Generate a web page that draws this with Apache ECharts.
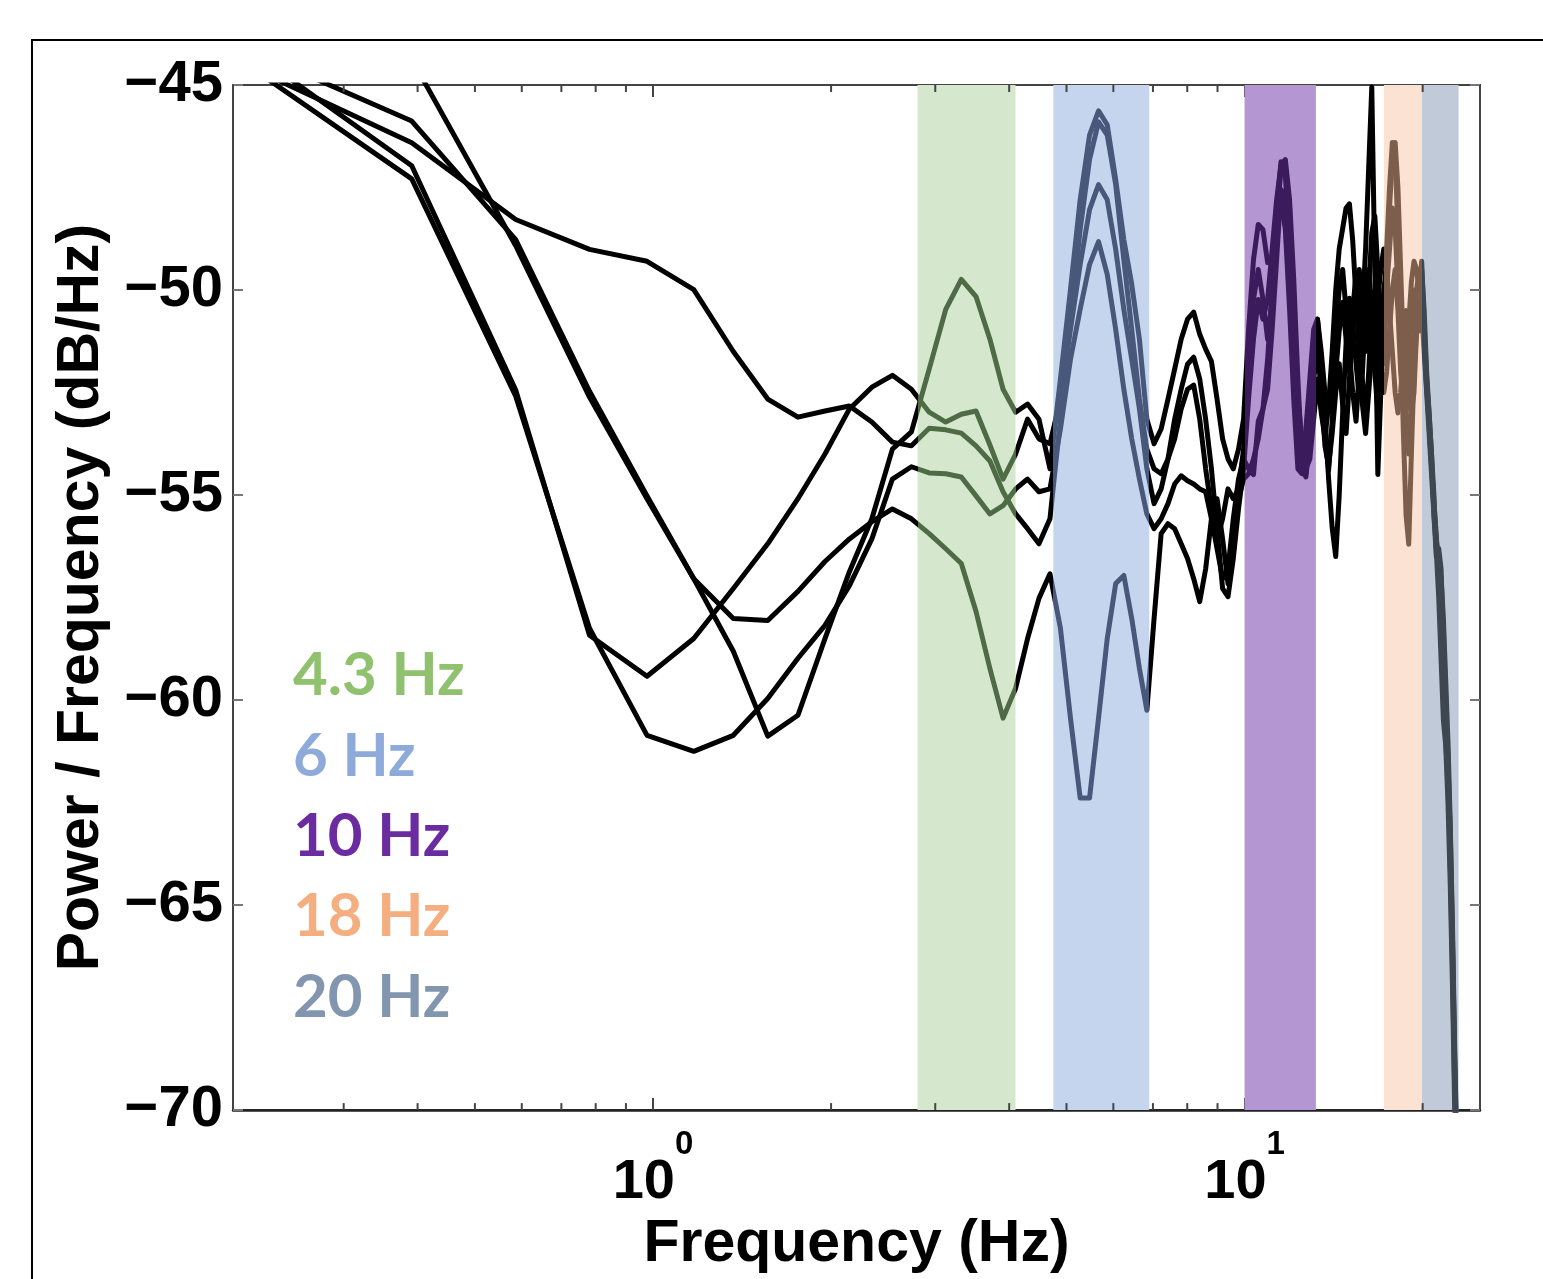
<!DOCTYPE html>
<html><head><meta charset="utf-8">
<script src="https://cdn.jsdelivr.net/npm/echarts@6.0.0/dist/echarts.min.js"></script>
<style>html,body{margin:0;padding:0;background:#fff}#c{width:1543px;height:1279px}</style>
</head><body><div id="c"></div>
<script>
// ---- data ----
const freqHz = [0.195,0.391,0.586,0.781,0.977,1.172,1.367,1.563,1.758,1.953,
2.148,2.344,2.539,2.734,2.930,3.125,3.320,3.516,3.711,3.906,
4.102,4.297,4.492,4.688,4.883,5.078,5.273,5.469,5.664,5.859,
6.055,6.250,6.445,6.641,6.836,7.031,7.227,7.422,7.617,7.813,
8.008,8.203,8.398,8.594,8.789,8.984,9.180,9.375,9.570,9.766,
9.961,10.156,10.352,10.547,10.742,10.938,11.133,11.328,11.523,11.719,
11.914,12.109,12.305,12.500,12.695,12.891,13.086,13.281,13.477,13.672,
13.867,14.063,14.258,14.453,14.648,14.844,15.039,15.234,15.430,15.625,
15.820,16.016,16.211,16.406,16.602,16.797,16.992,17.188,17.383,17.578,
17.773,17.969,18.164,18.359,18.555,18.750,18.945,19.141,19.336,19.531,
19.727,19.922,20.117,20.313,20.508,20.703,20.898,21.094,21.289,21.484,
21.680,21.875,22.070,22.266,22.461,22.656,22.852,23.047];

const psd1 = [-44.27,-47.29,-52.59,-58.25,-60.86,-61.25,-60.86,-59.96,-58.98,-58.18,
-57.21,-56.07,-54.61,-54.31,-54.46,-54.48,-54.56,-55.02,-55.46,-55.26,
-54.85,-54.61,-54.92,-54.85,-53.39,-51.69,-50.47,-49.38,-48.82,-49.62,
-50.96,-52.42,-53.63,-54.61,-55.46,-55.82,-55.58,-55.21,-54.73,-54.53,
-54.65,-54.73,-54.85,-54.92,-55.58,-56.31,-57.04,-56.80,-55.58,-54.61,
-54.12,-54.36,-54.50,-53.20,-52.90,-52.42,-50.96,-49.26,-47.55,-47.80,
-49.74,-51.69,-53.39,-54.36,-53.63,-52.42,-51.20,-50.96,-52.2,-53.5,
-54.4,-53.2,-52.0,-51.0,-50.3,-51.2,-52.0,-51.0,-50.0,-49.5,
-50.5,-51.5,-50.0,-48.6,-48.2,-49.5,-51.0,-51.8,-50.0,-49.0,
-48.0,-48.5,-50.0,-51.5,-52.5,-53.0,-52.0,-50.5,-50.0,-50.5,
-51.0,-50.5,-51.5,-52.5,-53.5,-54.5,-55.5,-56.3,-56.7,-57.0,
-58.0,-59.5,-61.0,-63.0,-65.5,-68.5,-71.0,-73.0];

const psd2 = [-43.86,-46.97,-52.44,-58.42,-59.42,-58.50,-57.28,-56.19,-55.09,-54.00,
-52.90,-52.37,-52.08,-52.42,-52.98,-53.22,-53.03,-52.95,-53.78,-54.61,
-54.00,-53.15,-53.63,-53.75,-52.66,-50.96,-49.38,-48.04,-47.43,-47.80,
-49.01,-50.47,-51.69,-52.90,-54.36,-55.21,-54.85,-54.12,-53.15,-52.42,
-51.81,-51.64,-52.17,-53.15,-54.36,-55.82,-57.28,-57.48,-56.55,-55.34,
-54.36,-52.66,-51.20,-50.23,-50.71,-50.23,-49.01,-47.80,-46.95,-46.82,
-47.80,-49.74,-52.17,-54.12,-54.48,-53.39,-51.69,-50.71,-51.8,-53.0,
-54.6,-55.8,-56.5,-55.0,-53.0,-51.3,-50.2,-50.8,-51.8,-52.6,
-52.0,-50.6,-49.5,-50.5,-52.0,-53.0,-51.5,-50.0,-49.5,-48.0,
-46.8,-46.4,-47.5,-49.5,-51.5,-53.0,-54.0,-53.0,-51.5,-50.0,
-49.5,-49.5,-50.5,-52.0,-53.0,-54.0,-55.5,-56.5,-56.3,-56.8,
-58.5,-60.5,-61.3,-63.5,-66.0,-69.0,-71.5,-74.0];

const psd3 = [-43.97,-45.88,-48.77,-52.47,-55.02,-57.04,-58.81,-60.88,-60.37,-58.50,
-56.87,-55.58,-53.88,-53.46,-51.93,-50.47,-49.74,-50.16,-51.20,-52.42,
-52.98,-52.78,-53.15,-54.36,-52.17,-49.99,-47.80,-46.22,-45.63,-45.97,
-47.31,-48.77,-49.86,-51.20,-53.15,-53.75,-53.39,-52.66,-51.93,-51.20,
-50.71,-50.54,-51.08,-51.44,-51.74,-52.66,-53.63,-54.12,-54.36,-53.88,
-53.15,-50.96,-49.26,-48.40,-48.53,-49.33,-49.30,-48.53,-47.80,-48.53,
-50.47,-52.66,-54.36,-54.48,-53.39,-52.17,-50.96,-50.71,-51.5,-52.5,
-53.0,-52.0,-51.0,-50.0,-49.5,-50.5,-51.5,-52.5,-53.2,-52.0,
-50.5,-49.0,-47.0,-45.05,-49.5,-54.5,-52.5,-50.5,-49.0,-47.5,
-46.4,-46.8,-48.5,-51.0,-53.5,-55.5,-56.2,-54.0,-52.0,-51.0,
-50.5,-50.0,-51.0,-52.3,-53.2,-54.2,-55.2,-56.0,-57.0,-58.2,
-59.5,-61.0,-62.0,-64.0,-66.5,-69.5,-72.0,-74.5];

const psd4 = [-42.5,-44.37,-48.92,-52.61,-55.09,-57.04,-58.01,-58.06,-57.35,-56.62,
-56.07,-55.65,-55.34,-55.58,-55.94,-56.31,-56.67,-57.84,-59.23,-60.44,
-59.71,-58.50,-57.52,-56.92,-58.25,-60.44,-62.39,-62.39,-60.44,-58.50,
-57.16,-56.96,-58.01,-59.23,-60.25,-58.01,-55.94,-55.70,-55.82,-56.19,
-56.55,-57.04,-57.60,-56.80,-55.58,-55.09,-56.07,-57.16,-56.19,-55.09,
-54.61,-54.48,-54.12,-53.63,-52.90,-51.69,-49.99,-48.28,-47.07,-46.95,
-48.53,-50.96,-53.15,-54.36,-54.56,-53.63,-52.17,-51.44,-52.5,-53.8,
-54.3,-53.5,-52.5,-51.8,-52.8,-53.5,-52.2,-50.5,-49.6,-50.8,
-52.2,-53.2,-52.0,-50.5,-50.0,-51.0,-52.0,-52.5,-52.0,-51.0,
-50.0,-49.5,-50.5,-52.0,-52.8,-52.0,-50.8,-49.8,-49.3,-49.5,
-50.0,-49.3,-50.8,-52.2,-53.0,-54.0,-55.0,-56.4,-57.5,-59.0,
-60.5,-61.1,-62.5,-64.5,-67.0,-70.0,-72.5,-75.0];

const psd5 = [-44.37,-46.41,-48.28,-49.01,-49.30,-49.99,-51.50,-52.66,-53.10,-52.95,
-52.83,-53.22,-53.71,-53.80,-53.37,-53.41,-53.49,-53.80,-54.17,-54.92,
-55.46,-55.82,-56.19,-55.58,-53.15,-50.71,-48.53,-46.82,-45.90,-46.22,
-47.43,-49.26,-50.96,-52.66,-53.88,-54.36,-54.48,-54.12,-53.63,-52.90,
-52.42,-52.32,-53.15,-54.36,-55.34,-56.07,-55.58,-54.85,-55.09,-54.85,
-53.88,-52.17,-50.23,-49.50,-50.23,-51.20,-50.23,-48.04,-46.87,-47.19,
-49.01,-50.96,-52.66,-53.63,-54.36,-54.12,-53.15,-52.17,-53.0,-53.6,
-52.8,-51.5,-50.0,-49.0,-48.5,-48.0,-47.9,-48.8,-50.2,-51.5,
-52.8,-53.5,-52.5,-51.5,-51.0,-50.2,-49.5,-49.0,-49.5,-50.5,
-51.5,-52.5,-53.0,-52.5,-51.5,-50.5,-51.5,-53.0,-52.5,-51.0,
-50.5,-50.3,-51.3,-52.4,-53.3,-54.3,-55.3,-56.1,-56.6,-57.5,
-58.3,-60.0,-61.6,-63.2,-65.8,-68.8,-71.2,-73.5];

const bandStartHz = [2.8, 4.75, 10.0, 17.2, 19.94];
const bandEndHz   = [4.1, 6.9, 13.2, 19.94, 23.0];
const bandLabels  = ['4.3 Hz', '6 Hz', '10 Hz', '18 Hz', '20 Hz'];
const minorTickHz = [0.3,0.4,0.5,0.6,0.7,0.8,0.9,2,3,4,5,6,7,8,9,20];
const xMinHz = 0.195, xMaxHz = 25;
const yMinDb = -70, yMaxDb = -45, yStepDb = 5;

// ---- styles ----
const bandFill  = ['#d5e8cd', '#c6d5ee', '#b497d2', '#fbe2d3', '#c1cad9'];
const bandLine  = ['#4e6b45', '#47587a', '#3b1b5c', '#7d5e4d', '#3e4652'];
const labelFill = ['#8fc16e', '#8eaadb', '#6a2ca0', '#f4ae7f', '#8396b0'];
const traces = [psd1, psd2, psd3, psd4, psd5];
const AX = '"Liberation Sans", Arial, sans-serif';

const chart = echarts.init(document.getElementById('c'), null, {renderer: 'canvas'});

const lineSeries = traces.map((t, i) => ({
  type: 'line', name: 'trace' + (i + 1), xAxisIndex: 0, yAxisIndex: 0,
  data: freqHz.map((f, j) => [f, t[j]]),
  showSymbol: false, symbol: 'none', clip: true, silent: true, z: 3,
  lineStyle: {width: 5, join: 'round', cap: 'round'}
}));

const legendGraphics = bandLabels.map((txt, i) => ({
  type: 'text', x: 293, y: 676 + i * 80.3, z: 10,
  style: {text: txt, fill: labelFill[i], font: 'bold 60px Lato, "Open Sans", sans-serif',
          align: 'left', verticalAlign: 'middle'}
}));

chart.setOption({
  animation: false,
  backgroundColor: '#fff',
  grid: {left: 233, right: 63, top: 85, bottom: 166, show: true,
         borderColor: '#333', borderWidth: 2, backgroundColor: 'transparent'},
  xAxis: [{
    type: 'log', logBase: 10, min: xMinHz, max: xMaxHz, position: 'bottom',
    name: 'Frequency (Hz)', nameLocation: 'middle', nameGap: 100,
    nameTextStyle: {fontSize: 59, fontWeight: 'bold', fontFamily: AX, color: '#000'},
    axisLine: {show: true, lineStyle: {color: '#222', width: 2.5}},
    axisTick: {show: true, inside: true, length: 12, lineStyle: {color: '#444', width: 2}},
    splitLine: {show: false},
    axisLabel: {
      showMinLabel: false, showMaxLabel: false, margin: 18,
      formatter: v => {
        const e = Math.log10(v);
        if (Math.abs(e - Math.round(e)) < 1e-6) return '{b|10}{s|' + Math.round(e) + '}';
        return '';
      },
      rich: {
        b: {fontSize: 56, fontWeight: 'bold', fontFamily: AX, color: '#000', padding: [26, 0, 0, 0]},
        s: {fontSize: 33, fontWeight: 'bold', fontFamily: AX, color: '#000', verticalAlign: 'top'}
      }
    }
  }, {
    type: 'log', logBase: 10, min: xMinHz, max: xMaxHz, position: 'top',
    axisLine: {show: true, lineStyle: {color: '#444', width: 2}},
    axisTick: {show: true, inside: true, length: 12, lineStyle: {color: '#444', width: 2}},
    axisLabel: {show: false}, splitLine: {show: false}
  }],
  yAxis: [{
    type: 'value', min: yMinDb, max: yMaxDb, interval: yStepDb, position: 'left',
    name: 'Power / Frequency (dB/Hz)', nameLocation: 'middle', nameGap: 122, nameRotate: 90,
    nameTextStyle: {fontSize: 59, fontWeight: 'bold', fontFamily: AX, color: '#000'},
    axisLine: {show: true, lineStyle: {color: '#444', width: 2}},
    axisTick: {show: true, inside: true, length: 10, lineStyle: {color: '#777', width: 2}},
    splitLine: {show: false},
    axisLabel: {fontSize: 58, fontWeight: 'bold', fontFamily: AX, color: '#000', margin: 10,
                formatter: v => String(v).replace('-', '\u2212')}
  }, {
    type: 'value', min: yMinDb, max: yMaxDb, interval: yStepDb, position: 'right',
    axisLine: {show: true, lineStyle: {color: '#444', width: 2}},
    axisTick: {show: true, inside: true, length: 10, lineStyle: {color: '#777', width: 2}},
    axisLabel: {show: false}, splitLine: {show: false}
  }],
  visualMap: {
    type: 'piecewise', show: false, dimension: 0, seriesIndex: [1, 2, 3, 4, 5],
    pieces: bandStartHz.map((s, i) => ({min: s, max: bandEndHz[i], color: bandLine[i]})),
    outOfRange: {color: '#000'}
  },
  series: [{
    type: 'custom', name: 'bands', xAxisIndex: 0, yAxisIndex: 0, silent: true, z: 1,
    data: bandStartHz.map((s, i) => [s, bandEndHz[i], i]),
    encode: {x: [0, 1]},
    renderItem: (params, api) => {
      const p0 = api.coord([api.value(0), yMaxDb]);
      const p1 = api.coord([api.value(1), yMinDb]);
      return {type: 'rect', shape: {x: p0[0], y: p0[1], width: p1[0] - p0[0], height: p1[1] - p0[1]},
              style: {fill: bandFill[api.value(2)]}};
    }
  }].concat(lineSeries).concat([{
    type: 'custom', name: 'minorTicks', xAxisIndex: 0, yAxisIndex: 0, silent: true, z: 5,
    data: minorTickHz.map(v => [v]),
    encode: {x: 0},
    renderItem: (params, api) => {
      const b = api.coord([api.value(0), yMinDb]);
      const t = api.coord([api.value(0), yMaxDb]);
      const st = {stroke: '#444', lineWidth: 2};
      return {type: 'group', children: [
        {type: 'line', shape: {x1: b[0], y1: b[1], x2: b[0], y2: b[1] - 7}, style: st},
        {type: 'line', shape: {x1: t[0], y1: t[1], x2: t[0], y2: t[1] + 7}, style: st}
      ]};
    }
  }]),
  graphic: [{
    type: 'rect', z: 0, shape: {x: 32, y: 40, width: 1600, height: 1400},
    style: {fill: 'none', stroke: '#000', lineWidth: 2}
  }].concat(legendGraphics)
});
</script>
</body></html>
